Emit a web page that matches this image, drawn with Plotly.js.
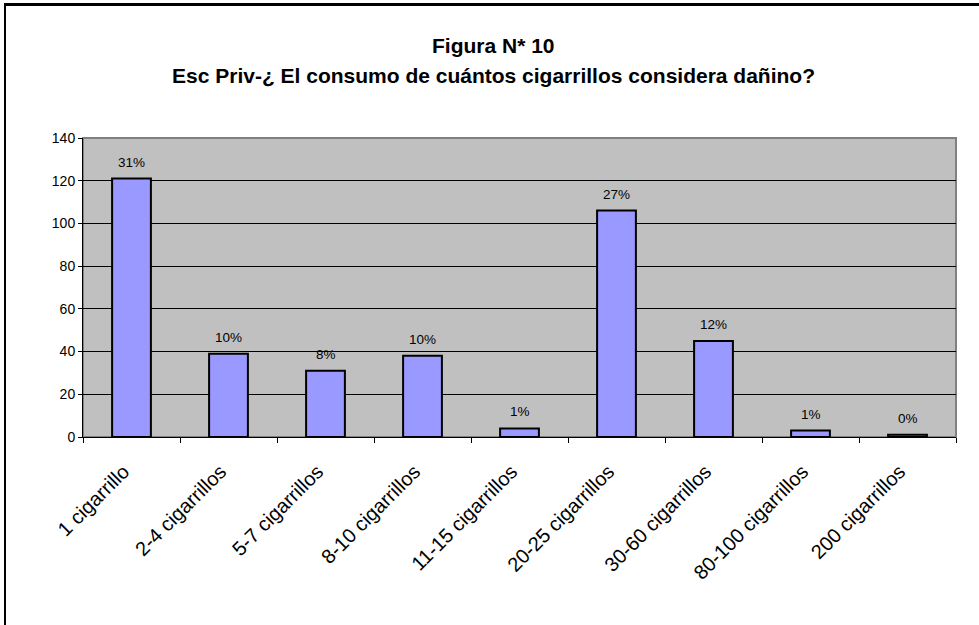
<!DOCTYPE html>
<html>
<head>
<meta charset="utf-8">
<script src="https://cdn.plot.ly/plotly-3.0.1.min.js"></script>
<style>
  html, body { margin: 0; padding: 0; background: #fff; }
  #wrap { position: relative; width: 979px; height: 625px; overflow: hidden; }
  #chart { width: 979px; height: 625px; }
  #frame { position: absolute; left: 4px; top: 3px; width: 1200px; height: 1200px;
           border-top: 3px solid #000; border-left: 2px solid #000; pointer-events: none; }
</style>
</head>
<body>
<div id="wrap">
  <div id="chart"></div>
  <div id="frame"></div>
</div>
<script>
const categories = ["1 cigarrillo", "2-4 cigarrillos", "5-7 cigarrillos", "8-10 cigarrillos",
  "11-15 cigarrillos", "20-25 cigarrillos", "30-60 cigarrillos", "80-100 cigarrillos", "200 cigarrillos"];
const counts = [121, 39, 31, 38, 4, 106, 45, 3, 1];
const percentLabels = ["31%", "10%", "8%", "10%", "1%", "27%", "12%", "1%", "0%"];
const yTicks = [0, 20, 40, 60, 80, 100, 120, 140];
const titleLine1 = "Figura N* 10";
const titleLine2 = "Esc Priv-¿ El consumo de cuántos cigarrillos considera dañino?";

const FONT = "Arial, 'Liberation Sans', sans-serif";

const trace = {
  type: "bar",
  x: categories,
  y: counts,
  width: 0.4,
  marker: { color: "#9999FF", line: { color: "#000000", width: 2 } },
  hoverinfo: "x+y"
};

const annotations = categories.map((c, i) => ({
  x: c, y: counts[i], xref: "x", yref: "y",
  text: percentLabels[i], showarrow: false,
  yanchor: "bottom", yshift: 7,
  font: { family: FONT, size: 13.5, color: "#000" }
}));

annotations.push({
  xref: "paper", yref: "paper", x: 0.47, y: 1.311,
  xanchor: "center", yanchor: "middle", showarrow: false,
  text: "<b>" + titleLine1 + "</b>",
  font: { family: FONT, size: 21, color: "#000" }
});
annotations.push({
  xref: "paper", yref: "paper", x: 0.47, y: 1.2107,
  xanchor: "center", yanchor: "middle", showarrow: false,
  text: "<b>" + titleLine2 + "</b>",
  font: { family: FONT, size: 21, color: "#000" }
});

const layout = {
  width: 979, height: 625,
  margin: { l: 83, r: 23, t: 138, b: 188, pad: 0 },
  paper_bgcolor: "#ffffff",
  plot_bgcolor: "#C0C0C0",
  showlegend: false,
  font: { family: FONT, color: "#000" },
  bargap: 0.6,
  xaxis: {
    type: "category",
    tickson: "boundaries",
    ticks: "outside", ticklen: 5, tickcolor: "#000", tickwidth: 1,
    tickangle: -45,
    ticklabelstandoff: 14,
    ticklabelshift: -8,
    tickfont: { family: FONT, size: 20, color: "#000" },
    showline: true, linecolor: "#000", linewidth: 1,
    showgrid: false, zeroline: false,
    fixedrange: true
  },
  yaxis: {
    range: [0, 140],
    tickvals: yTicks,
    ticks: "outside", ticklen: 4, tickcolor: "#000", tickwidth: 1,
    tickfont: { family: FONT, size: 14, color: "#000" },
    showline: true, linecolor: "#000", linewidth: 1,
    showgrid: true, gridcolor: "#000", gridwidth: 1,
    zeroline: false,
    fixedrange: true
  },
  shapes: [{
    type: "rect", xref: "paper", yref: "paper", x0: 0, x1: 1, y0: 0, y1: 1,
    line: { color: "#808080", width: 2 }, fillcolor: "rgba(0,0,0,0)", layer: "below"
  }],
  annotations: annotations
};

Plotly.newPlot("chart", [trace], layout, { displayModeBar: false, staticPlot: true });
</script>
</body>
</html>
